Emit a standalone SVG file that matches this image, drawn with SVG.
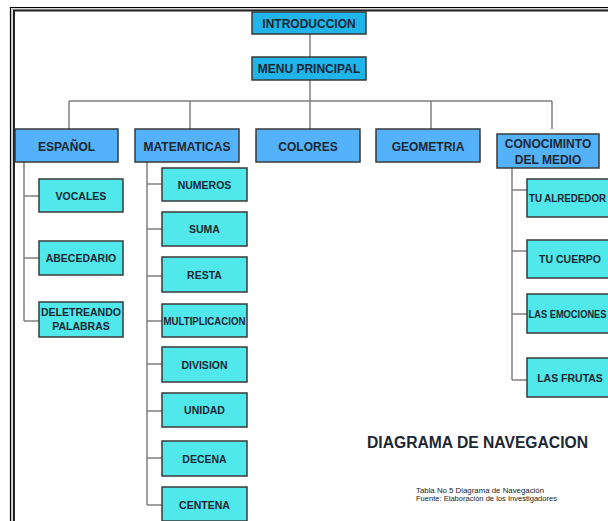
<svg xmlns="http://www.w3.org/2000/svg" width="608" height="521" viewBox="0 0 608 521">
<style>
.l1{fill:#1FB4EA;stroke:#3a3a3a;stroke-width:1.5}
.l2{fill:#54B2FB;stroke:#3a3a3a;stroke-width:1.5}
.lf{fill:#50E8EA;stroke:#3a3a3a;stroke-width:1.5}
.t{font-family:"Liberation Sans",Arial,sans-serif;font-weight:bold;fill:#1c2733;text-anchor:middle}
.t12{font-size:12px}
.t10{font-size:10.5px}
.c{fill:none;stroke:#808080;stroke-width:1.5}
.cap{font-family:"Liberation Sans",Arial,sans-serif;font-size:7px;fill:#222}
</style>
<rect x="0" y="0" width="608" height="521" fill="#fff"/>
<g id="frame" fill="none">
<path d="M10.5 521V7.5H608" stroke="#000" stroke-width="1.2"/>
<path d="M12 521V9H608" stroke="#b0b0b0" stroke-width="1"/>
<path d="M14 521V10.5H608" stroke="#222" stroke-width="2"/>
</g>
<g id="connectors" class="c">
<path d="M310 34V57M310 80V129M69 101H552M69 101V129M190 101V129M431 101V129M552 101V129"/>
<path d="M24 162V321M24 196H39M24 258H39M24 321H39"/>
<path d="M147 162V505M147 184H162M147 229H162M147 276H162M147 321H162M147 364H162M147 411H162M147 458H162M147 505H162"/>
<path d="M512 168V380M512 190H527M512 251H527M512 314H527M512 380H527"/>
</g>
<g id="n-intro"><rect class="l1" x="252" y="12" width="114" height="22"/><text class="t t12" x="309" y="27.5">INTRODUCCION</text></g>
<g id="n-menu"><rect class="l1" x="252" y="57" width="114" height="23"/><text class="t t12" x="309" y="73">MENU PRINCIPAL</text></g>
<g id="n-espanol"><rect class="l2" x="15" y="129" width="103" height="33"/><text class="t t12" x="66.5" y="150.5">ESPAÑOL</text></g>
<g id="n-matematicas"><rect class="l2" x="135" y="129" width="104" height="33"/><text class="t t12" x="187" y="150.5">MATEMATICAS</text></g>
<g id="n-colores"><rect class="l2" x="256" y="129" width="104" height="33"/><text class="t t12" x="308" y="150.5">COLORES</text></g>
<g id="n-geometria"><rect class="l2" x="376" y="129" width="104" height="33"/><text class="t t12" x="428" y="150.5">GEOMETRIA</text></g>
<g id="n-conocimiento"><rect class="l2" x="497" y="134" width="102" height="34"/><text class="t t12" x="548" y="147.5">CONOCIMINTO</text><text class="t t12" x="548" y="164">DEL MEDIO</text></g>
<g id="n-vocales"><rect class="lf" x="39" y="179" width="84" height="33"/><text class="t t10" x="81" y="199.5">VOCALES</text></g>
<g id="n-abecedario"><rect class="lf" x="39" y="241" width="84" height="34"/><text class="t t10" x="81" y="261.5">ABECEDARIO</text></g>
<g id="n-deletreando"><rect class="lf" x="39" y="302" width="84" height="35"/><text class="t t10" x="81" y="316">DELETREANDO</text><text class="t t10" x="81" y="330">PALABRAS</text></g>
<g id="n-numeros"><rect class="lf" x="162" y="168" width="85" height="33"/><text class="t t10" x="204.5" y="188.5">NUMEROS</text></g>
<g id="n-suma"><rect class="lf" x="162" y="212" width="85" height="34"/><text class="t t10" x="204.5" y="233">SUMA</text></g>
<g id="n-resta"><rect class="lf" x="162" y="257" width="85" height="35"/><text class="t t10" x="204.5" y="278.5">RESTA</text></g>
<g id="n-multiplicacion"><rect class="lf" x="162" y="304" width="85" height="33"/><text class="t t10" x="204.5" y="324.5" textLength="82" lengthAdjust="spacingAndGlyphs">MULTIPLICACION</text></g>
<g id="n-division"><rect class="lf" x="162" y="347" width="85" height="35"/><text class="t t10" x="204.5" y="368.5">DIVISION</text></g>
<g id="n-unidad"><rect class="lf" x="162" y="393" width="85" height="34"/><text class="t t10" x="204.5" y="414">UNIDAD</text></g>
<g id="n-decena"><rect class="lf" x="162" y="441" width="85" height="35"/><text class="t t10" x="204.5" y="462.5">DECENA</text></g>
<g id="n-centena"><rect class="lf" x="162" y="487" width="85" height="34"/><text class="t t10" x="204.5" y="508.5">CENTENA</text></g>
<g id="n-alrededor"><rect class="lf" x="527" y="179" width="86" height="38"/><text class="t t10" x="567.5" y="202" textLength="77" lengthAdjust="spacingAndGlyphs">TU ALREDEDOR</text></g>
<g id="n-cuerpo"><rect class="lf" x="527" y="240" width="86" height="38"/><text class="t t10" x="570" y="263">TU CUERPO</text></g>
<g id="n-emociones"><rect class="lf" x="527" y="294" width="86" height="39"/><text class="t t10" x="567.5" y="317.5" textLength="78" lengthAdjust="spacingAndGlyphs">LAS EMOCIONES</text></g>
<g id="n-frutas"><rect class="lf" x="527" y="358" width="86" height="39"/><text class="t t10" x="570" y="381.5">LAS FRUTAS</text></g>
<g id="title"><text x="367" y="448" font-family="Liberation Sans, Arial, sans-serif" font-weight="bold" font-size="16" fill="#1c2733" textLength="221" lengthAdjust="spacingAndGlyphs">DIAGRAMA DE NAVEGACION</text></g>
<g id="caption">
<text class="cap" x="416" y="493" textLength="128" lengthAdjust="spacingAndGlyphs">Tabla No 5 Diagrama de Navegación</text>
<text class="cap" x="416" y="500.5" textLength="141" lengthAdjust="spacingAndGlyphs">Fuente: Elaboración de los Investigadores</text>
</g>
</svg>
